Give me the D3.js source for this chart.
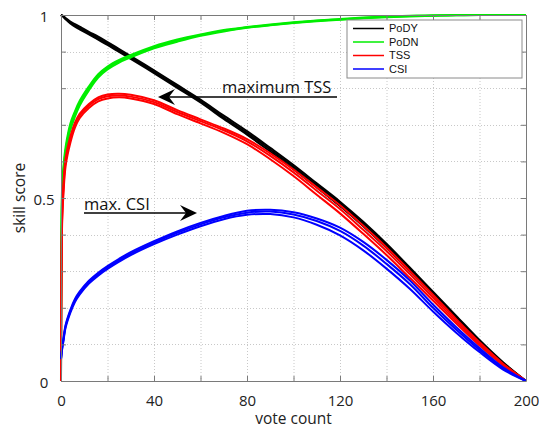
<!DOCTYPE html>
<html>
<head>
<meta charset="utf-8">
<script src="https://cdn.jsdelivr.net/npm/d3@7"></script>
<style>
  body { margin: 0; background: #fff; }
  svg { display: block; }
  .tick text { font-family: "Open Sans", sans-serif; font-size: 15px; fill: #222; }
</style>
</head>
<body>
<svg id="chart" width="539" height="428"></svg>
<script>
// vote count grid shared by every run
const votes = [0, 0.5, 1, 2, 4, 6, 8, 12, 16, 20, 25, 30, 40, 50, 60, 70, 80, 90, 100, 110, 120, 130, 140, 150, 160, 170, 180, 190, 200];

// PoDY runs (black)
const podyRuns = [
  [1, 0.998, 0.996, 0.99, 0.98, 0.972, 0.965, 0.951, 0.937, 0.922, 0.903, 0.884, 0.845, 0.805, 0.765, 0.72, 0.678, 0.632, 0.585, 0.535, 0.485, 0.43, 0.37, 0.305, 0.24, 0.175, 0.11, 0.05, 0],
  [1, 0.997, 0.995, 0.988, 0.977, 0.968, 0.961, 0.947, 0.933, 0.918, 0.899, 0.88, 0.841, 0.801, 0.761, 0.716, 0.673, 0.627, 0.579, 0.529, 0.478, 0.423, 0.364, 0.3, 0.236, 0.171, 0.107, 0.048, 0],
  [1, 0.999, 0.997, 0.992, 0.982, 0.975, 0.968, 0.954, 0.941, 0.926, 0.907, 0.888, 0.849, 0.809, 0.769, 0.725, 0.683, 0.637, 0.59, 0.54, 0.49, 0.435, 0.375, 0.31, 0.244, 0.178, 0.112, 0.052, 0]
];
// PoDN runs (green)
const podnRuns = [
  [0, 0.52, 0.57, 0.63, 0.695, 0.73, 0.759, 0.8, 0.834, 0.855, 0.874, 0.888, 0.912, 0.93, 0.945, 0.957, 0.966, 0.973, 0.979, 0.984, 0.988, 0.992, 0.995, 0.997, 0.998, 0.999, 1, 1, 1],
  [0, 0.505, 0.558, 0.618, 0.685, 0.722, 0.752, 0.794, 0.829, 0.851, 0.87, 0.884, 0.909, 0.927, 0.943, 0.955, 0.965, 0.972, 0.978, 0.983, 0.987, 0.991, 0.994, 0.996, 0.998, 0.999, 1, 1, 1],
  [0, 0.535, 0.582, 0.64, 0.703, 0.737, 0.765, 0.805, 0.838, 0.859, 0.877, 0.891, 0.915, 0.933, 0.947, 0.959, 0.967, 0.974, 0.98, 0.985, 0.989, 0.993, 0.996, 0.998, 0.999, 1, 1, 1, 1]
];
// TSS runs (red)
const tssRuns = [
  [0, 0.45, 0.52, 0.6, 0.66, 0.7, 0.725, 0.752, 0.77, 0.778, 0.78, 0.777, 0.762, 0.735, 0.71, 0.685, 0.655, 0.615, 0.57, 0.52, 0.47, 0.413, 0.355, 0.292, 0.228, 0.163, 0.102, 0.046, 0],
  [0, 0.435, 0.505, 0.588, 0.65, 0.692, 0.718, 0.746, 0.764, 0.772, 0.775, 0.772, 0.757, 0.729, 0.704, 0.678, 0.647, 0.606, 0.56, 0.509, 0.458, 0.402, 0.344, 0.282, 0.22, 0.157, 0.097, 0.043, 0],
  [0, 0.46, 0.532, 0.61, 0.668, 0.706, 0.73, 0.757, 0.775, 0.783, 0.785, 0.782, 0.767, 0.74, 0.715, 0.69, 0.661, 0.622, 0.578, 0.529, 0.48, 0.424, 0.365, 0.301, 0.236, 0.169, 0.106, 0.048, 0]
];
// CSI runs (blue)
const csiRuns = [
  [0.06, 0.09, 0.11, 0.15, 0.19, 0.22, 0.24, 0.27, 0.292, 0.31, 0.33, 0.348, 0.378, 0.405, 0.428, 0.447, 0.46, 0.463, 0.455, 0.437, 0.41, 0.37, 0.32, 0.265, 0.2, 0.14, 0.085, 0.035, 0],
  [0.06, 0.087, 0.107, 0.146, 0.186, 0.216, 0.236, 0.266, 0.288, 0.306, 0.326, 0.344, 0.374, 0.4, 0.423, 0.442, 0.454, 0.456, 0.447, 0.427, 0.398, 0.357, 0.307, 0.252, 0.19, 0.132, 0.079, 0.032, 0],
  [0.06, 0.093, 0.114, 0.154, 0.194, 0.224, 0.244, 0.274, 0.296, 0.314, 0.334, 0.352, 0.382, 0.409, 0.432, 0.451, 0.465, 0.468, 0.461, 0.444, 0.419, 0.38, 0.331, 0.275, 0.209, 0.147, 0.09, 0.038, 0]
];

const seriesNames = ["PoDY", "PoDN", "TSS", "CSI"];
const seriesColors = ["#000000", "#00ee00", "#ff0000", "#0000ff"];
const seriesRuns = [podyRuns, podnRuns, tssRuns, csiRuns];

const xTicks = d3.range(0, 201, 20);
const xLabels = [0, 40, 80, 120, 160, 200];
const yTicks = d3.range(0, 1.001, 0.1);
const yLabels = [0, 0.5, 1];

const svg = d3.select("#chart");
const x = d3.scaleLinear().domain([0, 200]).range([61, 526]);
const y = d3.scaleLinear().domain([0, 1]).range([381, 15]);

// dotted grid
const grid = svg.append("g").attr("stroke", "#c8c8c8").attr("stroke-dasharray", "1,2").attr("stroke-width", 1);
grid.selectAll("line.gx").data(xTicks.slice(1, -1)).join("line")
  .attr("x1", d => x(d) + 0.5).attr("x2", d => x(d) + 0.5)
  .attr("y1", y(1)).attr("y2", y(0));
grid.selectAll("line.gy").data(yTicks.slice(1, -1)).join("line")
  .attr("y1", d => Math.round(y(d)) + 0.5).attr("y2", d => Math.round(y(d)) + 0.5)
  .attr("x1", x(0)).attr("x2", x(200));

// curves
const line = d3.line().x((d, i) => x(votes[i])).y(d => y(d)).curve(d3.curveCatmullRom.alpha(0.5));
const curves = svg.append("g").attr("fill", "none");
seriesRuns.forEach((runs, k) => {
  curves.selectAll(null).data(runs).join("path")
    .attr("d", line)
    .attr("stroke", seriesColors[k])
    .attr("stroke-width", 2);
});

// axes, MATLAB style: ticks inside on all four sides
const fmtX = d => xLabels.includes(d) ? d : "";
const fmtY = d => yLabels.some(v => Math.abs(v - d) < 1e-9) ? d3.format("~g")(d) : "";
function styleAxis(g) {
  g.select(".domain").attr("stroke", "#7a7a7a");
  g.selectAll(".tick line").attr("stroke", "#7a7a7a");
}
svg.append("g").attr("transform", `translate(0,${y(0)})`)
  .call(d3.axisBottom(x).tickValues(xTicks).tickFormat(fmtX).tickSize(-5).tickSizeOuter(0).tickPadding(14))
  .call(styleAxis);
svg.append("g").attr("transform", `translate(0,${y(1)})`)
  .call(d3.axisTop(x).tickValues(xTicks).tickFormat("").tickSize(-5).tickSizeOuter(0))
  .call(styleAxis);
const yAxis = svg.append("g").attr("transform", `translate(${x(0)},0)`)
  .call(d3.axisLeft(y).tickValues(yTicks).tickFormat(fmtY).tickSize(-5).tickSizeOuter(0).tickPadding(12))
  .call(styleAxis);
yAxis.selectAll(".tick text").attr("text-anchor", "middle").attr("x", -17).attr("dy", "0.45em");
svg.append("g").attr("transform", `translate(${x(200)},0)`)
  .call(d3.axisRight(y).tickValues(yTicks).tickFormat("").tickSize(-5).tickSizeOuter(0))
  .call(styleAxis);

// axis titles
svg.append("text").attr("x", (x(0) + x(200)) / 2).attr("y", 424)
  .attr("text-anchor", "middle").attr("font-family", "Open Sans, sans-serif")
  .attr("font-size", 15.5).attr("fill", "#222").text("vote count");
svg.append("text").attr("transform", `translate(25,${y(0.5)}) rotate(-90)`)
  .attr("text-anchor", "middle").attr("font-family", "Open Sans, sans-serif")
  .attr("font-size", 15.5).attr("fill", "#222").text("skill score");

// legend
const legend = svg.append("g").attr("transform", "translate(347,20)");
legend.append("rect").attr("width", 175).attr("height", 58)
  .attr("fill", "#fff").attr("stroke", "#8a8a8a").attr("stroke-width", 1);
const items = legend.selectAll("g.item").data(seriesNames).join("g")
  .attr("transform", (d, i) => `translate(0,${8.5 + i * 13.5})`);
items.append("line").attr("x1", 6).attr("x2", 37)
  .attr("stroke", (d, i) => seriesColors[i]).attr("stroke-width", 1.5);
items.append("text").attr("x", 42).attr("dy", "0.35em")
  .attr("font-family", "Liberation Sans, Arial, sans-serif").attr("font-size", 11)
  .attr("fill", "#111").text(d => d);

// annotation arrows
function arrow(x1, x2, yy) {
  const dir = Math.sign(x2 - x1);
  svg.append("line").attr("x1", x1).attr("x2", x2 - dir * 8).attr("y1", yy).attr("y2", yy)
    .attr("stroke", "#000").attr("stroke-width", 1.6);
  svg.append("path")
    .attr("d", `M${x2},${yy} L${x2 - dir * 17},${yy - 8} L${x2 - dir * 11},${yy} L${x2 - dir * 17},${yy + 8} Z`)
    .attr("fill", "#000");
}
svg.append("text").attr("x", 222).attr("y", 93)
  .attr("font-family", "Open Sans, sans-serif").attr("font-size", 16.5).attr("fill", "#111").text("maximum TSS");
arrow(337, 158, 97);
svg.append("text").attr("x", 84).attr("y", 210)
  .attr("font-family", "Open Sans, sans-serif").attr("font-size", 16.5).attr("fill", "#111").text("max. CSI");
arrow(84, 197, 213);
</script>
</body>
</html>
